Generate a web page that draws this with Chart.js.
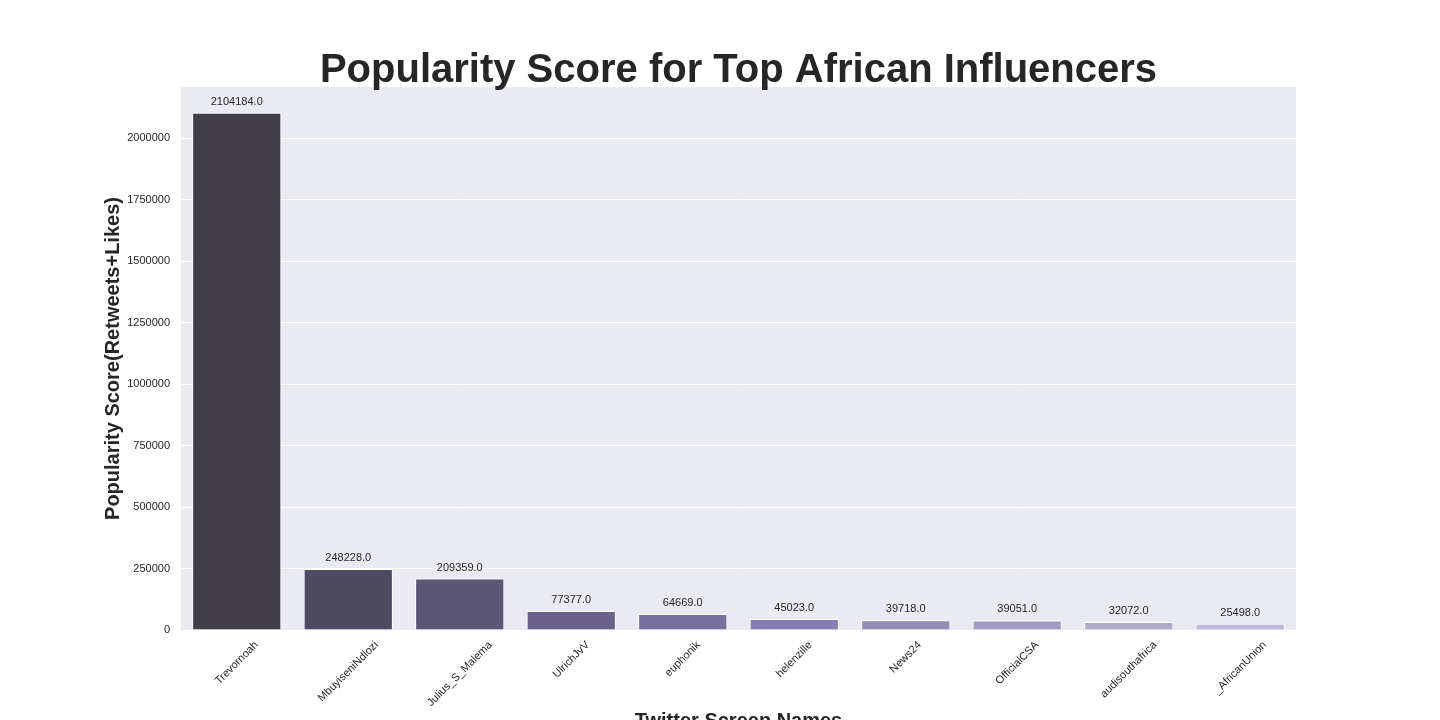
<!DOCTYPE html>
<html>
<head>
<meta charset="utf-8">
<script src="https://cdn.jsdelivr.net/npm/chart.js@4/dist/chart.umd.min.js"></script>
<style>
  html, body { margin: 0; padding: 0; background: #ffffff; overflow: hidden; }
  #wrap { width: 1440px; height: 737px; }
</style>
</head>
<body>
<div id="wrap"><canvas id="c" width="1440" height="737"></canvas></div>
<script>
const categories = ["Trevornoah", "MbuyiseniNdlozi", "Julius_S_Malema", "UlrichJvV", "euphonik",
                    "helenzille", "News24", "OfficialCSA", "audisouthafrica", "_AfricanUnion"];
const popularity = [2104184, 248228, 209359, 77377, 64669, 45023, 39718, 39051, 32072, 25498];
const barColors = ["#413E48", "#4E4A5F", "#5C5676", "#6A628A", "#776EA0",
                   "#857CAF", "#958CB8", "#A29CC3", "#AFAACD", "#BDB9D8"];
const yTickValues = [0, 250000, 500000, 750000, 1000000, 1250000, 1500000, 1750000, 2000000];
const chartTitle = "Popularity Score for Top African Influencers";
const xTitle = "Twitter Screen Names";
const yTitle = "Popularity Score(Retweets+Likes)";

const FONT = "'Liberation Sans', Arial, sans-serif";
const TEXT = "#262626";

const bgPlugin = {
  id: 'bg',
  beforeDraw(chart) {
    const {ctx, chartArea: a} = chart;
    ctx.save();
    ctx.fillStyle = '#EAEAF2';
    ctx.fillRect(a.left, a.top, a.right - a.left, a.bottom - a.top);
    ctx.restore();
  }
};

const textPlugin = {
  id: 'texts',
  afterDraw(chart) {
    const {ctx, chartArea: a} = chart;
    ctx.save();
    // main title
    ctx.fillStyle = TEXT;
    ctx.font = "bold 40px " + FONT;
    ctx.textAlign = 'center';
    ctx.textBaseline = 'alphabetic';
    ctx.fillText(chartTitle, (a.left + a.right) / 2, 82);

    // value labels
    ctx.font = "11px " + FONT;
    ctx.textBaseline = 'middle';
    const meta = chart.getDatasetMeta(0);
    meta.data.forEach((bar, i) => {
      ctx.fillText(popularity[i].toFixed(1), bar.x, bar.y - 11);
    });

    // rotated x tick labels (centered, like matplotlib ha='center')
    const xs = chart.scales.x;
    categories.forEach((lab, i) => {
      const x = xs.getPixelForValue(i);
      const w = ctx.measureText(lab).width;
      const h = (w + 12) * Math.SQRT1_2;
      ctx.save();
      ctx.translate(x, 639 + h / 2);
      ctx.rotate(-Math.PI / 4);
      ctx.textAlign = 'center';
      ctx.textBaseline = 'middle';
      ctx.fillText(lab, 0, 0);
      ctx.restore();
    });
    ctx.restore();
  }
};

new Chart(document.getElementById('c'), {
  type: 'bar',
  data: {
    labels: categories,
    datasets: [{
      data: popularity,
      backgroundColor: barColors,
      borderColor: '#ffffff',
      borderWidth: 1,
      barPercentage: 0.8,
      categoryPercentage: 1.0
    }]
  },
  options: {
    responsive: false,
    animation: false,
    devicePixelRatio: 1,
    layout: { padding: { left: 97, right: 144, top: 87, bottom: 0 } },
    plugins: { legend: { display: false }, tooltip: { enabled: false }, title: { display: false } },
    scales: {
      x: {
        grid: { display: false },
        border: { display: false },
        ticks: { display: false },
        title: { display: true, text: xTitle, color: TEXT, font: { family: FONT, size: 20, weight: 'bold' }, padding: { top: 4, bottom: 4 } },
        afterFit(scale) { scale.height = 107; }
      },
      y: {
        min: 0,
        max: popularity[0] * 1.05,
        grid: { color: '#ffffff', lineWidth: 1, drawTicks: false },
        border: { display: false },
        ticks: { color: TEXT, font: { family: FONT, size: 11 }, padding: 11, callback: v => String(v) },
        afterBuildTicks(scale) { scale.ticks = yTickValues.map(v => ({ value: v })); },
        title: { display: true, text: yTitle, color: TEXT, font: { family: FONT, size: 20, weight: 'bold' }, padding: { top: 4, bottom: 4 } },
        afterFit(scale) { scale.width = 84; }
      }
    }
  },
  plugins: [bgPlugin, textPlugin]
});
</script>
</body>
</html>
